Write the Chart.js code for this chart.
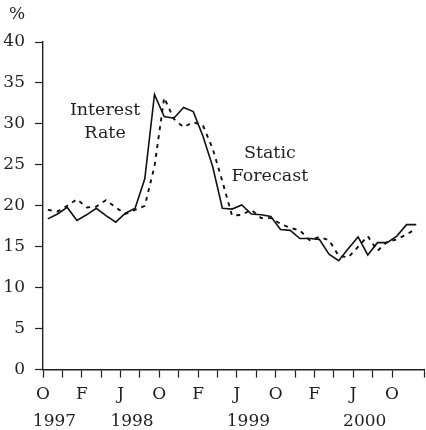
<!DOCTYPE html>
<html>
<head>
<meta charset="utf-8">
<script src="https://cdn.jsdelivr.net/npm/chart.js@4.4.1/dist/chart.umd.min.js"></script>
<style>
    html, body { margin: 0; padding: 0; background: #fff; }
    #wrap { width: 426px; height: 430px; }
</style>
</head>
<body>
<div id="wrap"><canvas id="rate-chart"></canvas></div>
<script>
// monthly values, Oct 1997 .. Dec 2000
const interestRate = [
    18.4, 19.0, 19.8, 18.2, 18.9, 19.7, 18.8, 18.0, 19.1, 19.7,
    23.3, 33.6, 30.9, 30.7, 32.0, 31.5, 28.5, 24.8, 19.7, 19.6,
    20.1, 19.0, 18.9, 18.7, 17.1, 17.0, 16.0, 16.0, 15.9, 14.1,
    13.3, 14.8, 16.2, 14.0, 15.5, 15.5, 16.3, 17.7, 17.7
];
const staticForecast = [
    19.5, 19.3, 20.0, 20.8, 19.8, 19.9, 20.7, 19.8, 19.0, 19.5,
    20.0, 24.8, 33.2, 30.6, 29.6, 30.2, 29.8, 27.0, 23.0, 18.8,
    18.9, 19.5, 18.5, 18.5, 17.8, 17.3, 17.0, 15.8, 16.2, 15.8,
    13.9, 13.7, 15.0, 16.3, 14.5, 15.6, 15.9, 16.5, 17.2
];
const monthLetters = ['O', 'F', 'J', 'O', 'F', 'J', 'O', 'F', 'J', 'O'];
const yearLabels = ['1997', '1998', '1999', '2000'];
const yearMonth = [0, 8, 20, 32];
const yTicks = [0, 5, 10, 15, 20, 25, 30, 35, 40];
const notes = [
    { lines: ['Interest', 'Rate'], x: 6.4, y: 31.7 },
    { lines: ['Static', 'Forecast'], x: 23.4, y: 26.4 }
];

const ink = '#231f20';
const serif = '"DejaVu Serif", serif';

const toPoints = arr => arr.map((v, i) => ({ x: i + 0.5, y: v }));

const textPlugin = {
    id: 'texts',
    afterDraw(chart) {
        const { ctx, chartArea, scales: { x, y } } = chart;
        ctx.save();
        ctx.fillStyle = ink;
        ctx.textBaseline = 'middle';
        ctx.textAlign = 'center';
        ctx.font = '17px ' + serif;
        yearLabels.forEach((t, i) => {
            ctx.fillText(t, x.getPixelForValue(yearMonth[i]) + 11.5, chartArea.bottom + 52);
        });
        ctx.fillText('%', chartArea.left - 26, chartArea.top - 27);
        ctx.font = '17.5px ' + serif;
        notes.forEach(n => {
            const px = x.getPixelForValue(n.x);
            const py = y.getPixelForValue(n.y);
            n.lines.forEach((l, i) => ctx.fillText(l, px, py + i * 23));
        });
        ctx.restore();
    }
};

new Chart(document.getElementById('rate-chart').getContext('2d'), {
    type: 'line',
    data: {
        datasets: [{
            label: 'Interest Rate',
            data: toPoints(interestRate),
            borderColor: '#111',
            borderWidth: 1.6,
            pointRadius: 0,
            tension: 0
        }, {
            label: 'Static Forecast',
            data: toPoints(staticForecast),
            borderColor: '#111',
            borderWidth: 1.9,
            borderDash: [4, 5],
            pointRadius: 0,
            tension: 0
        }]
    },
    options: {
        responsive: true,
        maintainAspectRatio: false,
        animation: false,
        layout: { padding: { top: 42, right: 2, bottom: 18, left: 3 } },
        plugins: { legend: { display: false }, tooltip: { enabled: false } },
        scales: {
            x: {
                type: 'linear',
                min: 0,
                max: 39.3,
                afterFit: s => { s.paddingRight = 0; s.paddingLeft = 0; },
                grid: { drawOnChartArea: false, tickLength: 8, tickColor: ink, tickWidth: 1.2 },
                border: { color: ink, width: 1.4 },
                ticks: {
                    stepSize: 2,
                    autoSkip: false,
                    maxRotation: 0,
                    padding: 7,
                    color: ink,
                    font: { family: serif, size: 17 },
                    callback: v => (v % 4 === 0 && monthLetters[v / 4]) || ''
                }
            },
            y: {
                min: 0,
                max: 40,
                afterBuildTicks: s => { s.ticks = yTicks.map(v => ({ value: v })); },
                afterFit: s => { s.width = 40; },
                grid: { drawOnChartArea: false, tickLength: 8, tickColor: ink, tickWidth: 1.2 },
                border: { color: ink, width: 1.4 },
                ticks: {
                    padding: 10,
                    color: ink,
                    font: { family: serif, size: 17 }
                }
            }
        }
    },
    plugins: [textPlugin]
});
</script>
</body>
</html>
